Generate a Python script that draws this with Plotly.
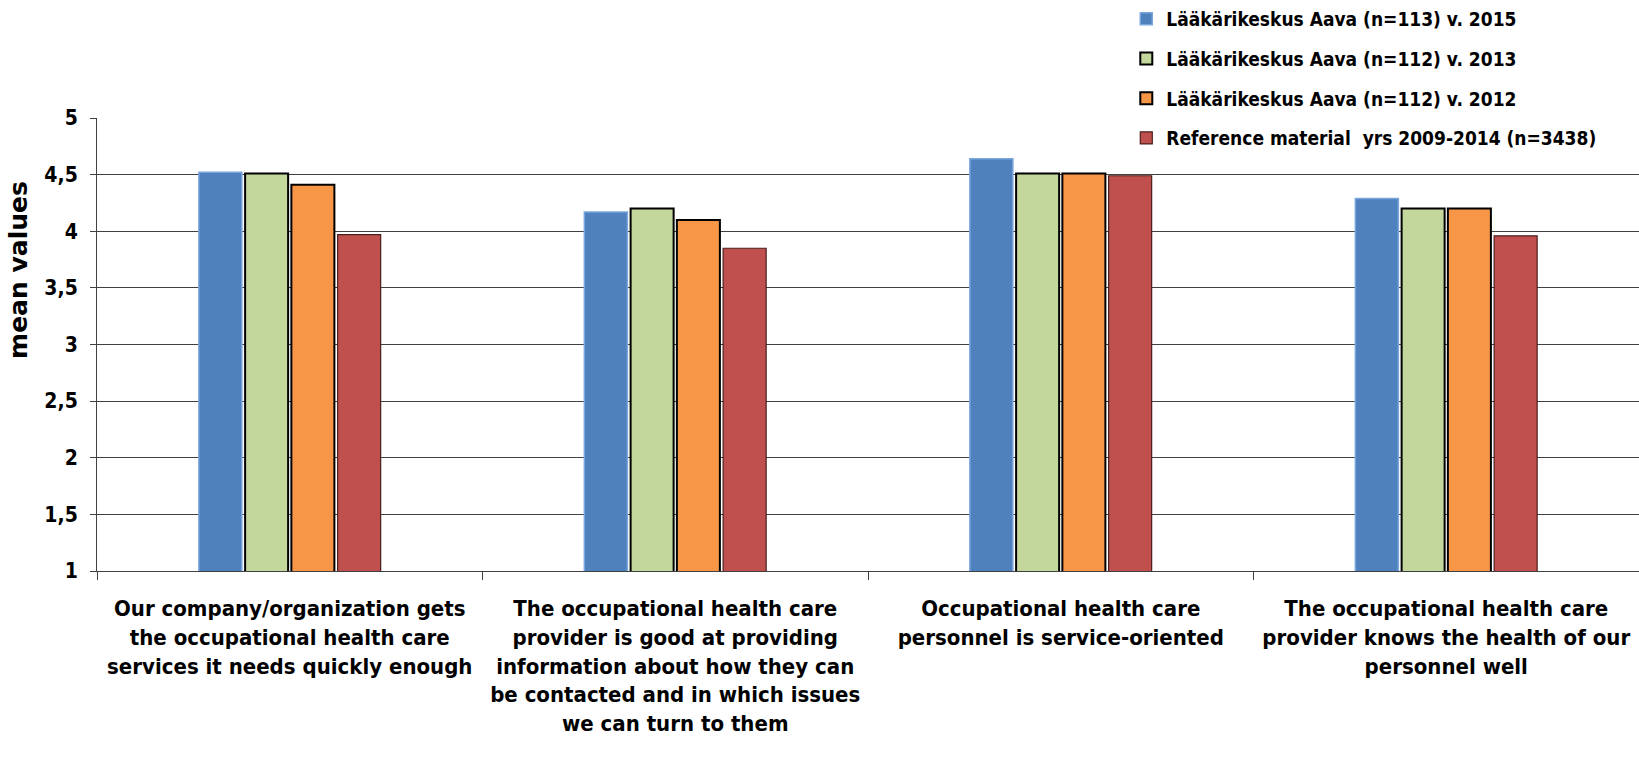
import plotly.graph_objects as go

categories = [
    "Our company/organization gets<br>the occupational health care<br>services it needs quickly enough",
    "The occupational health care<br>provider is good at providing<br>information about how they can<br>be contacted and in which issues<br>we can turn to them",
    "Occupational health care<br>personnel is service-oriented",
    "The occupational health care<br>provider knows the health of our<br>personnel well",
]
series_names = [
    "Lääkärikeskus Aava (n=113) v. 2015",
    "Lääkärikeskus Aava (n=112) v. 2013",
    "Lääkärikeskus Aava (n=112) v. 2012",
    "Reference material  yrs 2009-2014 (n=3438)",
]
v2015 = [4.52, 4.17, 4.64, 4.29]
v2013 = [4.51, 4.20, 4.51, 4.20]
v2012 = [4.41, 4.10, 4.51, 4.20]
vref = [3.97, 3.85, 4.49, 3.96]
y_ticks = [1, 1.5, 2, 2.5, 3, 3.5, 4, 4.5, 5]

fills = ["#4f81bd", "#c3d69b", "#f79646", "#c0504d"]
lines = ["#7aa6de", "#000000", "#000000", "#4a1f1e"]
lwidths = [1.5, 2, 2, 1.2]

FONT = "DejaVu Sans"
CFONT = "DejaVu Sans Condensed"
fig = go.Figure()
for i, (name, vals) in enumerate(zip(series_names, [v2015, v2013, v2012, vref])):
    fig.add_trace(go.Bar(
        x=categories, y=vals, name=name, legendgroup=f"g{i}",
        marker=dict(color=fills[i], line=dict(color=lines[i], width=lwidths[i])),
    ))

fig.update_layout(
    width=1639, height=757,
    margin=dict(l=97, r=0, t=118, b=186),
    paper_bgcolor="white", plot_bgcolor="white",
    separators=", ",
    barmode="group", bargap=0.52, bargroupgap=0.07,
    font=dict(family=FONT, color="black"),
    legend=dict(
        x=0.6675, y=1.2605, xanchor="left", yanchor="top",
        bgcolor="white", traceorder="grouped", tracegroupgap=12,
        font=dict(family=CFONT, size=19, color="black", weight="bold"),
        itemwidth=30,
    ),
    showlegend=True,
)
fig.update_xaxes(
    type="category", tickson="boundaries", ticks="outside", ticklen=8,
    tickcolor="#404040", showline=True, linecolor="#404040", linewidth=1,
    tickfont=dict(family=CFONT, size=22, color="black", weight="bold"),
    ticklabelstandoff=18,
    showgrid=False,
)
fig.update_yaxes(
    range=[1, 5], tickvals=y_ticks, ticks="outside", ticklen=6,
    tickcolor="#404040", showline=True, linecolor="#404040", linewidth=1,
    showgrid=True, gridcolor="#404040", gridwidth=1, zeroline=False,
    tickfont=dict(family=CFONT, size=21, color="black", weight="bold"),
    ticklabelstandoff=8,
)
fig.add_annotation(
    text="<b>mean values</b>", textangle=-90, xref="paper", yref="paper",
    x=-0.0505, y=0.665, xanchor="center", yanchor="middle", showarrow=False,
    font=dict(family=FONT, size=25, color="black"),
)
fig.write_html("out.html", config={"displayModeBar": False},
               post_script="document.body.style.margin='0';")
